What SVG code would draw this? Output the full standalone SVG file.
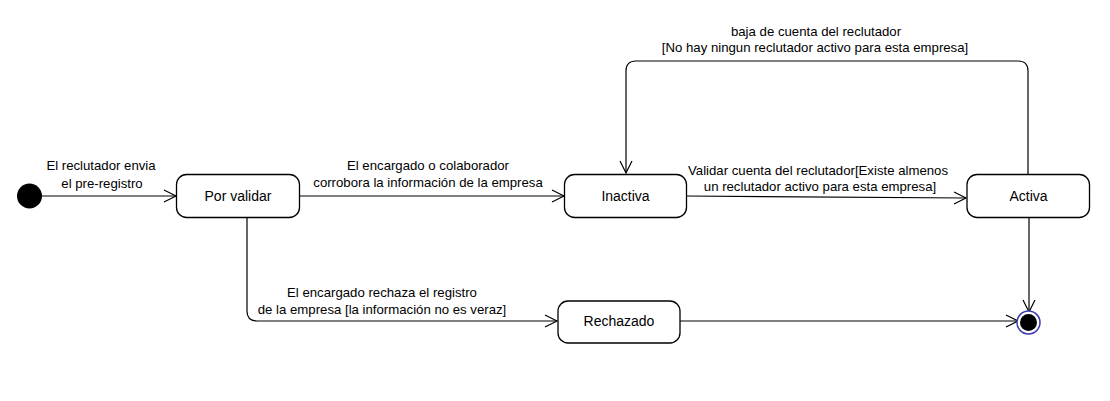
<svg xmlns="http://www.w3.org/2000/svg" width="1110" height="401" viewBox="0 0 1110 401">
<style>
.state{fill:#fff;stroke:#000;stroke-width:1.3}
.conn{fill:none;stroke:#000;stroke-width:1.2}
.lbl{font-family:"Liberation Sans",Arial,sans-serif;font-size:13.2px;fill:#000;text-anchor:middle}
.name{font-family:"Liberation Sans",Arial,sans-serif;font-size:14px;fill:#000;text-anchor:middle}
</style>
<defs>
<marker id="open" markerUnits="userSpaceOnUse" markerWidth="16" markerHeight="16" refX="13" refY="7" orient="auto" viewBox="0 0 16 14">
<path d="M1,1 L13,7 L1,13" fill="none" stroke="#000" stroke-width="1.2"/>
</marker>
</defs>
<rect width="1110" height="401" fill="#fff"/>
<g id="connectors">
<path class="conn" d="M42,196 H176" marker-end="url(#open)"/>
<path class="conn" d="M300,196 H564" marker-end="url(#open)"/>
<path class="conn" d="M687,196 L966,198" marker-end="url(#open)"/>
<path class="conn" d="M1028,174 V71 Q1028,61 1018,61 H636 Q626,61 626,71 V173" marker-end="url(#open)"/>
<path class="conn" d="M247,218 V311 Q247,321 257,321 H557" marker-end="url(#open)"/>
<path class="conn" d="M680,321 H1018" marker-end="url(#open)"/>
<path class="conn" d="M1029,218 V312" marker-end="url(#open)"/>
</g>
<g id="labels">
<text class="lbl" x="101" y="170">El reclutador envia</text>
<text class="lbl" x="102" y="188">el pre-registro</text>
<text class="lbl" x="428" y="170">El encargado o colaborador</text>
<text class="lbl" x="428" y="187">corrobora la información de la empresa</text>
<text class="lbl" x="818" y="175">Validar cuenta del reclutador[Existe almenos</text>
<text class="lbl" x="820" y="191">un reclutador activo para esta empresa]</text>
<text class="lbl" x="816" y="36">baja de cuenta del reclutador</text>
<text class="lbl" x="815" y="52">[No hay ningun reclutador activo para esta empresa]</text>
<text class="lbl" x="382" y="297">El encargado rechaza el registro</text>
<text class="lbl" x="382" y="314">de la empresa [la información no es veraz]</text>
</g>
<g id="initial">
<circle cx="29.5" cy="196" r="12.5" fill="#000"/>
</g>
<g id="por-validar">
<rect class="state" x="176.5" y="174.5" width="123" height="43" rx="10"/>
<text class="name" x="238" y="201">Por validar</text>
</g>
<g id="inactiva">
<rect class="state" x="564.5" y="174.5" width="122" height="43" rx="10"/>
<text class="name" x="625.5" y="201">Inactiva</text>
</g>
<g id="activa">
<rect class="state" x="967" y="174.5" width="122.5" height="43" rx="10"/>
<text class="name" x="1028.5" y="201">Activa</text>
</g>
<g id="rechazado">
<rect class="state" x="558" y="301" width="122" height="42" rx="10"/>
<text class="name" x="619" y="326">Rechazado</text>
</g>
<g id="final">
<circle cx="1028.5" cy="322.5" r="11.5" fill="#fff" stroke="#3a3ab0" stroke-width="1.5"/>
<circle cx="1028.5" cy="322.5" r="8.5" fill="#000"/>
</g>
</svg>
